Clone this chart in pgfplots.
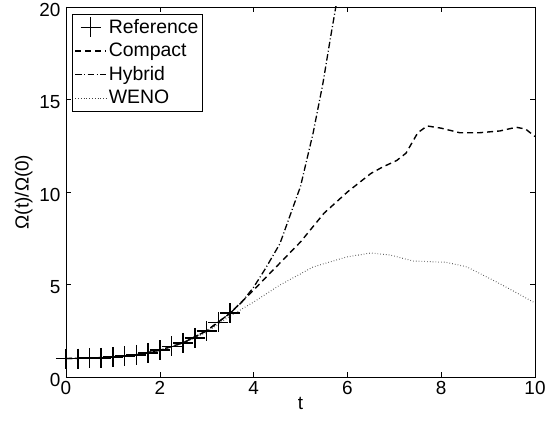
\documentclass[border=0pt]{standalone}
\usepackage{fontspec}
\setmainfont{Liberation Sans}
\usepackage{pgfplots}
\pgfplotsset{compat=1.18}
\pgfplotsset{refleg/.style={legend image code/.code={\draw[##1] plot coordinates {(15.5bp,0bp)};}}}
\begin{document}
\fontsize{19}{22}\selectfont
\begin{tikzpicture}
\begin{axis}[
  scale only axis,
  width=469bp, height=370bp,
  xmin=0, xmax=10, ymin=0, ymax=20,
  xtick={0,2,4,6,8,10}, ytick={0,5,10,15,20},
  tick align=inside,
  major tick length=5bp,
  tick style={black, line width=0.5pt},
  axis line style={line width=0.8pt},
  /pgf/number format/assume math mode=true,
  ticklabel style={font=\fontsize{19}{22}\selectfont},
  xticklabel style={yshift=2bp},
  yticklabel style={xshift=1bp, yshift=-3bp},
  xlabel={t}, ylabel={Ω(t)/Ω(0)},
  label style={font=\fontsize{19}{22}\selectfont},
  xlabel style={yshift=10bp},
  ylabel style={yshift=-6bp},
  legend style={at={(0.013,0.982)}, anchor=north west, draw=black, line width=0.8pt,
    font=\fontsize{19.5}{22}\selectfont, inner xsep=2pt, inner ysep=3pt, row sep=3pt,
    cells={anchor=west}},
  legend cell align=left,
  legend image code/.code={\draw[#1] (0bp,0bp) -- (31bp,0bp);},
]
\addplot[only marks, mark=+, mark size=10bp, mark options={line width=1.6pt}, black, refleg]
 coordinates {
 (0,1.0) (0.25,1.0) (0.5,1.02) (0.75,1.04) (1.0,1.08) (1.25,1.13) (1.5,1.2) (1.75,1.3)
 (2.0,1.45) (2.25,1.65) (2.5,1.85) (2.75,2.12) (3.0,2.5) (3.25,2.95) (3.5,3.45)};
\addlegendentry{Reference}
\addplot[black, line width=1.4pt, dash pattern=on 6bp off 4bp] coordinates {
 (0,1) (0.5,1.02) (1,1.08) (1.5,1.2) (2,1.45) (2.5,1.85) (3,2.5) (3.5,3.45) (4,4.7)
 (4.5,6.0) (5,7.3) (5.5,8.85) (6,10.0) (6.5,11.0) (6.75,11.35) (7.05,11.7) (7.25,12.1)
 (7.5,13.2) (7.7,13.57) (8.0,13.45) (8.4,13.2) (8.8,13.2) (9.25,13.3) (9.6,13.5) (9.8,13.4) (10,13.0)};
\addlegendentry{Compact}
\addplot[black, line width=1.3pt, dash pattern=on 6.5bp off 2.5bp on 1bp off 2.5bp] coordinates {
 (0,1) (0.5,1.02) (1,1.08) (1.5,1.2) (2,1.45) (2.5,1.85) (3,2.5) (3.5,3.45) (3.75,4.05)
 (4,4.85) (4.25,5.85) (4.56,7.2) (5,10.3) (5.27,13.2) (5.48,15.9) (5.63,18.2) (5.78,20.4)};
\addlegendentry{Hybrid}
\addplot[black!75, line width=1.0pt, dash pattern=on 0.6bp off 2.2bp] coordinates {
 (0,1) (0.5,1.02) (1,1.08) (1.5,1.2) (2,1.44) (2.5,1.82) (3,2.42) (3.5,3.3) (4,4.05)
 (4.56,4.97) (5.27,5.95) (6,6.5) (6.5,6.7) (6.9,6.6) (7.4,6.27) (8.1,6.2) (8.55,5.95)
 (9.1,5.24) (9.5,4.7) (10,4.0)};
\addlegendentry{WENO}
\end{axis}
\pgfresetboundingbox
\path ([shift={(-66bp,-47bp)}]current axis.south west) rectangle ([shift={(24bp,7bp)}]current axis.north east);
\end{tikzpicture}
\end{document}
